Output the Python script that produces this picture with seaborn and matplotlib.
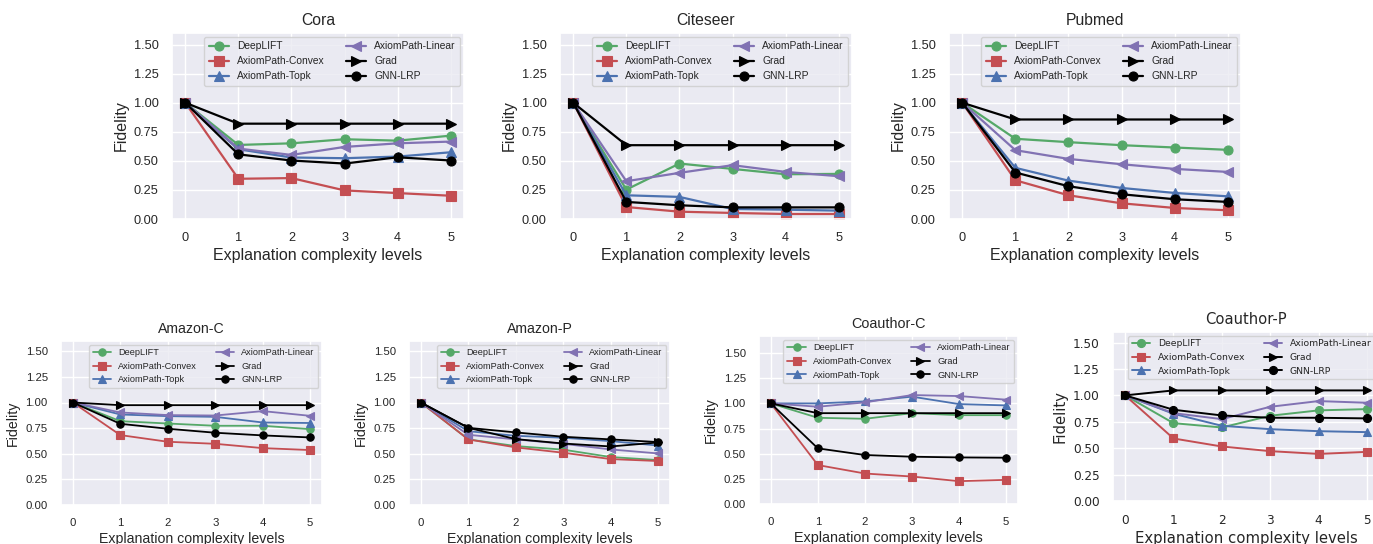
import matplotlib
matplotlib.use("Agg")
import matplotlib.pyplot as plt
import seaborn as sns
import pandas as pd

levels = [0, 1, 2, 3, 4, 5]
methods = ["DeepLIFT", "AxiomPath-Convex", "AxiomPath-Topk",
           "AxiomPath-Linear", "Grad", "GNN-LRP"]
colors = ["#55A868", "#C44E52", "#4C72B0", "#8172B3", "#000000", "#000000"]
markers = ["o", "s", "^", "<", ">", "o"]

cora = {
    "DeepLIFT":         [1.0, 0.637, 0.651, 0.686, 0.674, 0.717],
    "AxiomPath-Convex": [1.0, 0.346, 0.352, 0.246, 0.223, 0.200],
    "AxiomPath-Topk":   [1.0, 0.600, 0.529, 0.523, 0.537, 0.574],
    "AxiomPath-Linear": [1.0, 0.606, 0.551, 0.620, 0.651, 0.666],
    "Grad":             [1.0, 0.820, 0.820, 0.820, 0.820, 0.820],
    "GNN-LRP":          [1.0, 0.556, 0.503, 0.477, 0.531, 0.503],
}
citeseer = {
    "DeepLIFT":         [1.0, 0.253, 0.477, 0.431, 0.385, 0.388],
    "AxiomPath-Convex": [1.0, 0.103, 0.063, 0.052, 0.043, 0.043],
    "AxiomPath-Topk":   [1.0, 0.204, 0.190, 0.086, 0.080, 0.072],
    "AxiomPath-Linear": [1.0, 0.325, 0.397, 0.463, 0.405, 0.368],
    "Grad":             [1.0, 0.635, 0.635, 0.635, 0.635, 0.635],
    "GNN-LRP":          [1.0, 0.147, 0.118, 0.100, 0.100, 0.100],
}
pubmed = {
    "DeepLIFT":         [1.0, 0.690, 0.661, 0.635, 0.615, 0.595],
    "AxiomPath-Convex": [1.0, 0.333, 0.204, 0.135, 0.095, 0.075],
    "AxiomPath-Topk":   [1.0, 0.440, 0.330, 0.267, 0.224, 0.195],
    "AxiomPath-Linear": [1.0, 0.592, 0.517, 0.471, 0.431, 0.405],
    "Grad":             [1.0, 0.856, 0.856, 0.856, 0.856, 0.856],
    "GNN-LRP":          [1.0, 0.400, 0.282, 0.213, 0.170, 0.147],
}
amazon_c = {
    "DeepLIFT":         [1.0, 0.818, 0.795, 0.773, 0.773, 0.740],
    "AxiomPath-Convex": [1.0, 0.682, 0.617, 0.597, 0.555, 0.536],
    "AxiomPath-Topk":   [1.0, 0.883, 0.867, 0.860, 0.805, 0.800],
    "AxiomPath-Linear": [1.0, 0.903, 0.877, 0.873, 0.916, 0.870],
    "Grad":             [1.0, 0.974, 0.974, 0.974, 0.974, 0.974],
    "GNN-LRP":          [1.0, 0.792, 0.744, 0.705, 0.679, 0.659],
}
amazon_p = {
    "DeepLIFT":         [1.0, 0.640, 0.575, 0.540, 0.468, 0.438],
    "AxiomPath-Convex": [1.0, 0.640, 0.562, 0.510, 0.448, 0.429],
    "AxiomPath-Topk":   [1.0, 0.720, 0.675, 0.656, 0.623, 0.580],
    "AxiomPath-Linear": [1.0, 0.685, 0.640, 0.597, 0.542, 0.503],
    "Grad":             [1.0, 0.753, 0.643, 0.600, 0.571, 0.610],
    "GNN-LRP":          [1.0, 0.753, 0.708, 0.666, 0.640, 0.614],
}
coauthor_c = {
    "DeepLIFT":         [1.0, 0.857, 0.847, 0.903, 0.883, 0.883],
    "AxiomPath-Convex": [1.0, 0.387, 0.303, 0.273, 0.227, 0.240],
    "AxiomPath-Topk":   [1.0, 1.000, 1.020, 1.067, 0.993, 0.980],
    "AxiomPath-Linear": [1.0, 0.967, 1.010, 1.083, 1.073, 1.037],
    "Grad":             [1.0, 0.903, 0.903, 0.903, 0.903, 0.903],
    "GNN-LRP":          [1.0, 0.553, 0.487, 0.470, 0.463, 0.460],
}
coauthor_p = {
    "DeepLIFT":         [1.0, 0.737, 0.696, 0.807, 0.858, 0.870],
    "AxiomPath-Convex": [1.0, 0.592, 0.516, 0.472, 0.446, 0.465],
    "AxiomPath-Topk":   [1.0, 0.826, 0.712, 0.680, 0.661, 0.652],
    "AxiomPath-Linear": [1.0, 0.832, 0.775, 0.892, 0.946, 0.930],
    "Grad":             [1.0, 1.047, 1.047, 1.047, 1.047, 1.047],
    "GNN-LRP":          [1.0, 0.864, 0.810, 0.788, 0.788, 0.782],
}

titles = ["Cora", "Citeseer", "Pubmed", "Amazon-C", "Amazon-P",
          "Coauthor-C", "Coauthor-P"]
datasets = [cora, citeseer, pubmed, amazon_c, amazon_p, coauthor_c, coauthor_p]
yticks = [0.0, 0.25, 0.5, 0.75, 1.0, 1.25, 1.5]

sns.set_theme(style="darkgrid")
plt.rcParams["font.family"] = ["Liberation Sans", "DejaVu Sans"]

W, H = 1373, 544
fig = plt.figure(figsize=(W / 100, H / 100), dpi=100)

# layout (pixel boxes: left, right, top, bottom), ylim top, font sizes
layout = [
    dict(box=(172, 464, 33, 219), ytop=1.6, tfs=11.3, lfs=11.5, kfs=9.2, gfs=7.4, ms=6.5, lw=1.6, fam="Liberation Sans"),
    dict(box=(560, 852, 33, 219), ytop=1.6, tfs=11.3, lfs=11.5, kfs=9.2, gfs=7.4, ms=6.5, lw=1.6, fam="Liberation Sans"),
    dict(box=(949, 1241, 33, 219), ytop=1.6, tfs=11.3, lfs=11.5, kfs=9.2, gfs=7.4, ms=6.5, lw=1.6, fam="Liberation Sans"),
    dict(box=(61, 322, 341, 505), ytop=1.6, tfs=10.2, lfs=10.2, kfs=8.2, gfs=6.6, ms=5.3, lw=1.3, fam="Liberation Sans"),
    dict(box=(409, 670, 341, 505), ytop=1.6, tfs=10.2, lfs=10.2, kfs=8.2, gfs=6.6, ms=5.3, lw=1.3, fam="Liberation Sans"),
    dict(box=(759, 1018, 336, 504), ytop=1.67, tfs=10.4, lfs=10.4, kfs=8.2, gfs=6.7, ms=5.3, lw=1.3, fam="Liberation Sans"),
    dict(box=(1113, 1379, 332, 501), ytop=1.6, tfs=10.6, lfs=10.7, kfs=8.7, gfs=6.7, ms=5.8, lw=1.4, fam="DejaVu Sans"),
]

for title, data, spec in zip(titles, datasets, layout):
    l, r, t, b = spec["box"]
    ax = fig.add_axes([l / W, 1 - b / H, (r - l) / W, (b - t) / H])
    fam = spec["fam"]
    for m, c, mk in zip(methods, colors, markers):
        df = pd.DataFrame({"level": levels, "fid": data[m]})
        sns.lineplot(data=df, x="level", y="fid", ax=ax, color=c, marker=mk,
                     markersize=spec["ms"], linewidth=spec["lw"],
                     markeredgecolor=c, markeredgewidth=0.8, label=m)
    ax.set_ylim(0, spec["ytop"])
    ax.set_xlim(-0.25, 5.25)
    ax.set_xticks(levels)
    ax.set_yticks(yticks)
    ax.set_xticklabels([str(v) for v in levels], fontsize=spec["kfs"], family=fam)
    ax.set_yticklabels([f"{v:.2f}" for v in yticks], fontsize=spec["kfs"], family=fam)
    ax.set_title(title, fontsize=spec["tfs"], family=fam)
    ax.set_xlabel("Explanation complexity levels", fontsize=spec["lfs"], family=fam, labelpad=3)
    ax.set_ylabel("Fidelity", fontsize=spec["lfs"], family=fam)
    ax.legend(ncol=2, loc="upper right", prop={"family": fam, "size": spec["gfs"]},
              borderaxespad=0.4)

fig.savefig("out.png", dpi=100)
